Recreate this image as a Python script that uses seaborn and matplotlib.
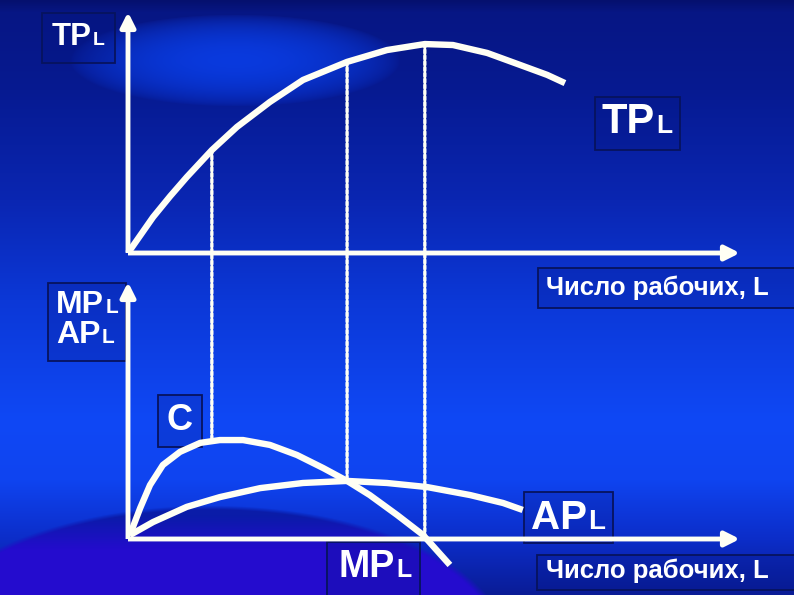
import numpy as np
import matplotlib
matplotlib.use("Agg")
import matplotlib.pyplot as plt
import seaborn as sns
from matplotlib.patches import ConnectionPatch, Rectangle
from matplotlib.offsetbox import TextArea, HPacker, VPacker, AnnotationBbox

# Данные кривых (число рабочих L и значения продукта)
L_tp = [0, 0.41, 0.69, 0.96, 1.37, 1.78, 2.32, 2.86, 3.58, 4.23, 4.85, 5.31, 5.87, 6.41, 6.85, 7.14]
TP = [0, 1.49, 2.36, 3.15, 4.27, 5.23, 6.27, 7.18, 7.93, 8.42, 8.67, 8.63, 8.30, 7.80, 7.39, 7.05]

L_mp = [0.03, 0.20, 0.36, 0.57, 0.85, 1.18, 1.50, 1.88, 2.32, 2.76, 3.19, 3.58, 3.95, 4.40, 4.82, 5.26]
MP = [0.15, 1.21, 2.10, 2.88, 3.39, 3.74, 3.85, 3.85, 3.66, 3.27, 2.76, 2.26, 1.71, 0.93, 0.16, -1.01]

L_ap = [0.03, 0.41, 0.96, 1.50, 2.16, 2.86, 3.58, 4.23, 4.89, 5.59, 6.13, 6.45]
AP = [0.15, 0.66, 1.25, 1.63, 1.98, 2.18, 2.26, 2.18, 2.02, 1.71, 1.40, 1.13]

# Точки, отмеченные пунктиром
L_marks = [1.37, 3.58, 4.85]
TP_marks = [4.27, 7.93, 8.67]
low_marks = [3.82, 2.26, 0.0]

W, H = 794, 595
WHITE = "#fffff4"

sns.set_theme(style="white")
plt.rcParams['font.family'] = ['Liberation Sans', 'DejaVu Sans']

fig = plt.figure(figsize=(W / 100, H / 100), dpi=100)

# Фон: синий градиент в стиле слайда
yy, xx = np.mgrid[0:H, 0:W].astype(float)
stops_y = [0, 12, 90, 200, 300, 420, 480, 540, 595]
stops_c = np.array([
    (5, 16, 110), (7, 22, 132), (6, 26, 145), (10, 38, 178), (12, 56, 215),
    (15, 72, 245), (15, 68, 240), (12, 45, 200), (10, 28, 150)], dtype=float)
bg = np.stack([np.interp(yy, stops_y, stops_c[:, k]) for k in range(3)], axis=-1)

# светлый блик сверху
d = ((xx - 235) / 165) ** 2 + ((yy - 60) / 46) ** 2
glow = (np.clip(1 - d, 0, 1) ** 0.7 * 0.8)[..., None]
bg = bg * (1 - glow) + np.array([10, 66, 242]) * glow

# эллипс снизу
d2 = ((xx - 210) / 300) ** 2 + ((yy - 650) / 145) ** 2
t = np.clip((yy - 515) / 35, 0, 1)[..., None]
ell = np.array([10, 28, 168]) * (1 - t) + np.array([36, 12, 206]) * t
m = np.clip((1 - d2) / 0.06, 0, 1)[..., None]
bg = bg * (1 - m) + ell * m

ax_bg = fig.add_axes([0, 0, 1, 1])
ax_bg.imshow(bg.astype(np.uint8), aspect='auto', interpolation='bilinear')
ax_bg.axis('off')
ax_bg.set_zorder(-5)

# Верхний график: TPL
ax_top = fig.add_axes([128 / W, (H - 253) / H, 612 / W, 241 / H])
ax_top.set_xlim(0, 10)
ax_top.set_ylim(0, 10)

# Нижний график: MPL и APL
ax_bot = fig.add_axes([128 / W, 0, 612 / W, (H - 282) / H])
ax_bot.set_xlim(0, 10)
ax_bot.set_ylim(-(H - 539) / 25.7, 10)

arrow = dict(arrowstyle='-|>', color=WHITE, lw=3.5, shrinkA=0, shrinkB=0,
             mutation_scale=22, capstyle='butt')
for ax in (ax_top, ax_bot):
    ax.axis('off')
    ax.patch.set_alpha(0)
    ax.set_zorder(6)
    ax.annotate('', xy=(10, 0), xytext=(0, 0), arrowprops=arrow, annotation_clip=False)
    ax.annotate('', xy=(0, 10), xytext=(0, 0), arrowprops=arrow, annotation_clip=False)

line_kw = dict(color=WHITE, lw=4.6, sort=False, estimator=None,
               solid_capstyle='butt', solid_joinstyle='round')
sns.lineplot(x=L_tp, y=TP, ax=ax_top, **line_kw)
sns.lineplot(x=L_mp, y=MP, ax=ax_bot, **line_kw)
sns.lineplot(x=L_ap, y=AP, ax=ax_bot, **line_kw)
for ax in (ax_top, ax_bot):
    for ln in ax.lines:
        ln.set_clip_on(False)

# Пунктирные линии между графиками
for x, tp, low in zip(L_marks, TP_marks, low_marks):
    con = ConnectionPatch(xyA=(x, tp), coordsA=ax_top.transData,
                          xyB=(x, low), coordsB=ax_bot.transData,
                          color=WHITE, lw=2.4, linestyle=(0, (1.0, 0.75)), zorder=1)
    fig.add_artist(con)


def label(lines, cx, cy, box, sep=3):
    x0, y0, x1, y1 = box
    fig.add_artist(Rectangle((x0 / W, 1 - y1 / H), (x1 - x0) / W, (y1 - y0) / H,
                             transform=fig.transFigure, facecolor=(0.02, 0.08, 0.5, 0.22),
                             edgecolor='#07135e', lw=1.3, zorder=2))
    rows = []
    for line in lines:
        parts = [TextArea(s, textprops=dict(color='white', fontsize=fs, fontweight='bold'))
                 for s, fs in line]
        rows.append(HPacker(children=parts, align='baseline', pad=0, sep=1))
    content = rows[0] if len(rows) == 1 else VPacker(children=rows, align='left', pad=0, sep=sep)
    ab = AnnotationBbox(content, (cx, H - cy), xycoords='figure pixels',
                        box_alignment=(0.5, 0.5), frameon=False, pad=0)
    ab.set_zorder(3)
    fig.add_artist(ab)


label([[('TP', 22.5), ('L', 14)]], 78, 37, (42, 13, 115, 63))
label([[('TP', 30), ('L', 19)]], 637, 122, (595, 97, 680, 150))
label([[('Число рабочих, L', 18.5)]], 657, 288, (538, 268, 796, 308))
label([[('MP', 23), ('L', 15)], [('AP', 23), ('L', 15)]], 87, 320, (48, 283, 126, 361), sep=0)
label([[('C', 26)]], 180, 420, (158, 395, 202, 447))
label([[('AP', 29), ('L', 20)]], 568, 518, (524, 492, 613, 543))
label([[('MP', 27), ('L', 18)]], 375, 567, (327, 542, 420, 597))
label([[('Число рабочих, L', 18.5)]], 657, 571, (537, 555, 796, 590))

fig.savefig('out.png', dpi=100)
